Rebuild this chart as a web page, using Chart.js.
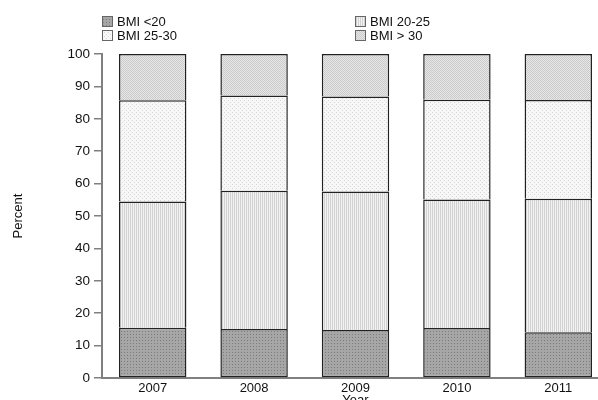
<!DOCTYPE html>
<html>
<head>
<meta charset="utf-8">
<script src="https://cdn.jsdelivr.net/npm/chart.js@4/dist/chart.umd.min.js"></script>
<style>
html,body{margin:0;padding:0;background:#fff;}
#wrap{width:598px;height:400px;overflow:hidden;position:relative;}
canvas{display:block;}
</style>
</head>
<body>
<div id="wrap"><canvas id="c" width="609" height="400"></canvas></div>
<script>

const years = ["2007","2008","2009","2010","2011"]

const bmiUnder20 = [15.5,15.1,14.8,15.4,14.1]
const bmi20to25 = [39.0,42.7,42.8,39.7,41.2]
const bmi25to30 = [31.2,29.4,29.3,30.8,30.5]
const bmiOver30 = [14.3,12.8,13.1,14.1,14.2]

const seriesNames = ["BMI <20","BMI 20-25","BMI 25-30","BMI > 30"]

const yTicks = [0,10,20,30,40,50,60,70,80,90,100]

const FONT = "'Liberation Sans', Arial, sans-serif"

// small tiles that look like the printed fill textures
function makePattern(size, base, dot, cells){
const t=document.createElement("canvas")
t.width=size
t.height=size
const g=t.getContext("2d")
g.fillStyle=base
g.fillRect(0,0,size,size)
g.fillStyle=dot
cells.forEach(p=>g.fillRect(p[0],p[1],1,1))
return g.createPattern(t,"repeat")
}

const ctx=document.getElementById("c").getContext("2d")

const fills=[
makePattern(3,"#a6a6a6","#7c7c7c",[[1,1]]),
makePattern(2,"#f2f2f2","#d2d2d2",[[0,0],[0,1]]),
makePattern(4,"#f7f7f7","#d6d6d6",[[0,0],[2,2]]),
makePattern(2,"#e6e6e6","#cbcbcb",[[0,0],[1,1]])
]

const legendGrid = {
id:"legendGrid",
afterDraw(chart){
const c=chart.ctx
const cols=[102,355]
const rows=[16,30]
c.save()
c.font="13px "+FONT
c.textBaseline="middle"
c.textAlign="left"
chart.data.datasets.forEach((ds,i)=>{
const x=cols[i%2]
const y=rows[Math.floor(i/2)]
c.fillStyle=ds.backgroundColor
c.fillRect(x,y,11,11)
c.strokeStyle="#666"
c.lineWidth=1
c.strokeRect(x+0.5,y+0.5,10,10)
c.fillStyle="#111"
c.fillText(ds.label,x+15,y+6)
})
c.restore()
}
}

const allSeries=[bmiUnder20,bmi20to25,bmi25to30,bmiOver30]

new Chart(ctx,{
type:"bar",
data:{
labels:years,
datasets:allSeries.map((vals,i)=>({
label:seriesNames[i],
data:vals,
backgroundColor:fills[i],
borderColor:"#222",
// only the lowest segment draws its bottom edge, so shared edges stay single
borderWidth:i==0?1.5:{top:1.5,left:1.5,right:1.5,bottom:0},
borderSkipped:false,
barPercentage:0.665,
categoryPercentage:1
}))
},
options:{
responsive:false,
animation:false,
layout:{padding:{top:54,right:0,bottom:0,left:0}},
plugins:{
legend:{display:false},
tooltip:{enabled:false}
},
scales:{
x:{
stacked:true,
grid:{display:false,drawTicks:false},
border:{display:true,color:"#808080",width:2},
ticks:{color:"#111",font:{family:FONT,size:13},padding:3,maxRotation:0},
title:{display:true,text:"Year",color:"#111",font:{family:FONT,size:13},padding:{top:0,bottom:-8}},
afterFit(s){s.height=22}
},
y:{
stacked:true,
min:0,
max:100,
afterBuildTicks(s){s.ticks=yTicks.map(v=>({value:v}))},
grid:{drawOnChartArea:false,drawTicks:true,tickLength:8,color:"#808080",lineWidth:1.5},
border:{display:true,color:"#808080",width:2},
ticks:{color:"#111",font:{family:FONT,size:13.5},padding:4},
title:{display:true,text:"Percent",color:"#111",font:{family:FONT,size:13},padding:{top:11,bottom:0}},
afterFit(s){s.width=102}
}
}
},
plugins:[legendGrid]
})

</script>
</body>
</html>
